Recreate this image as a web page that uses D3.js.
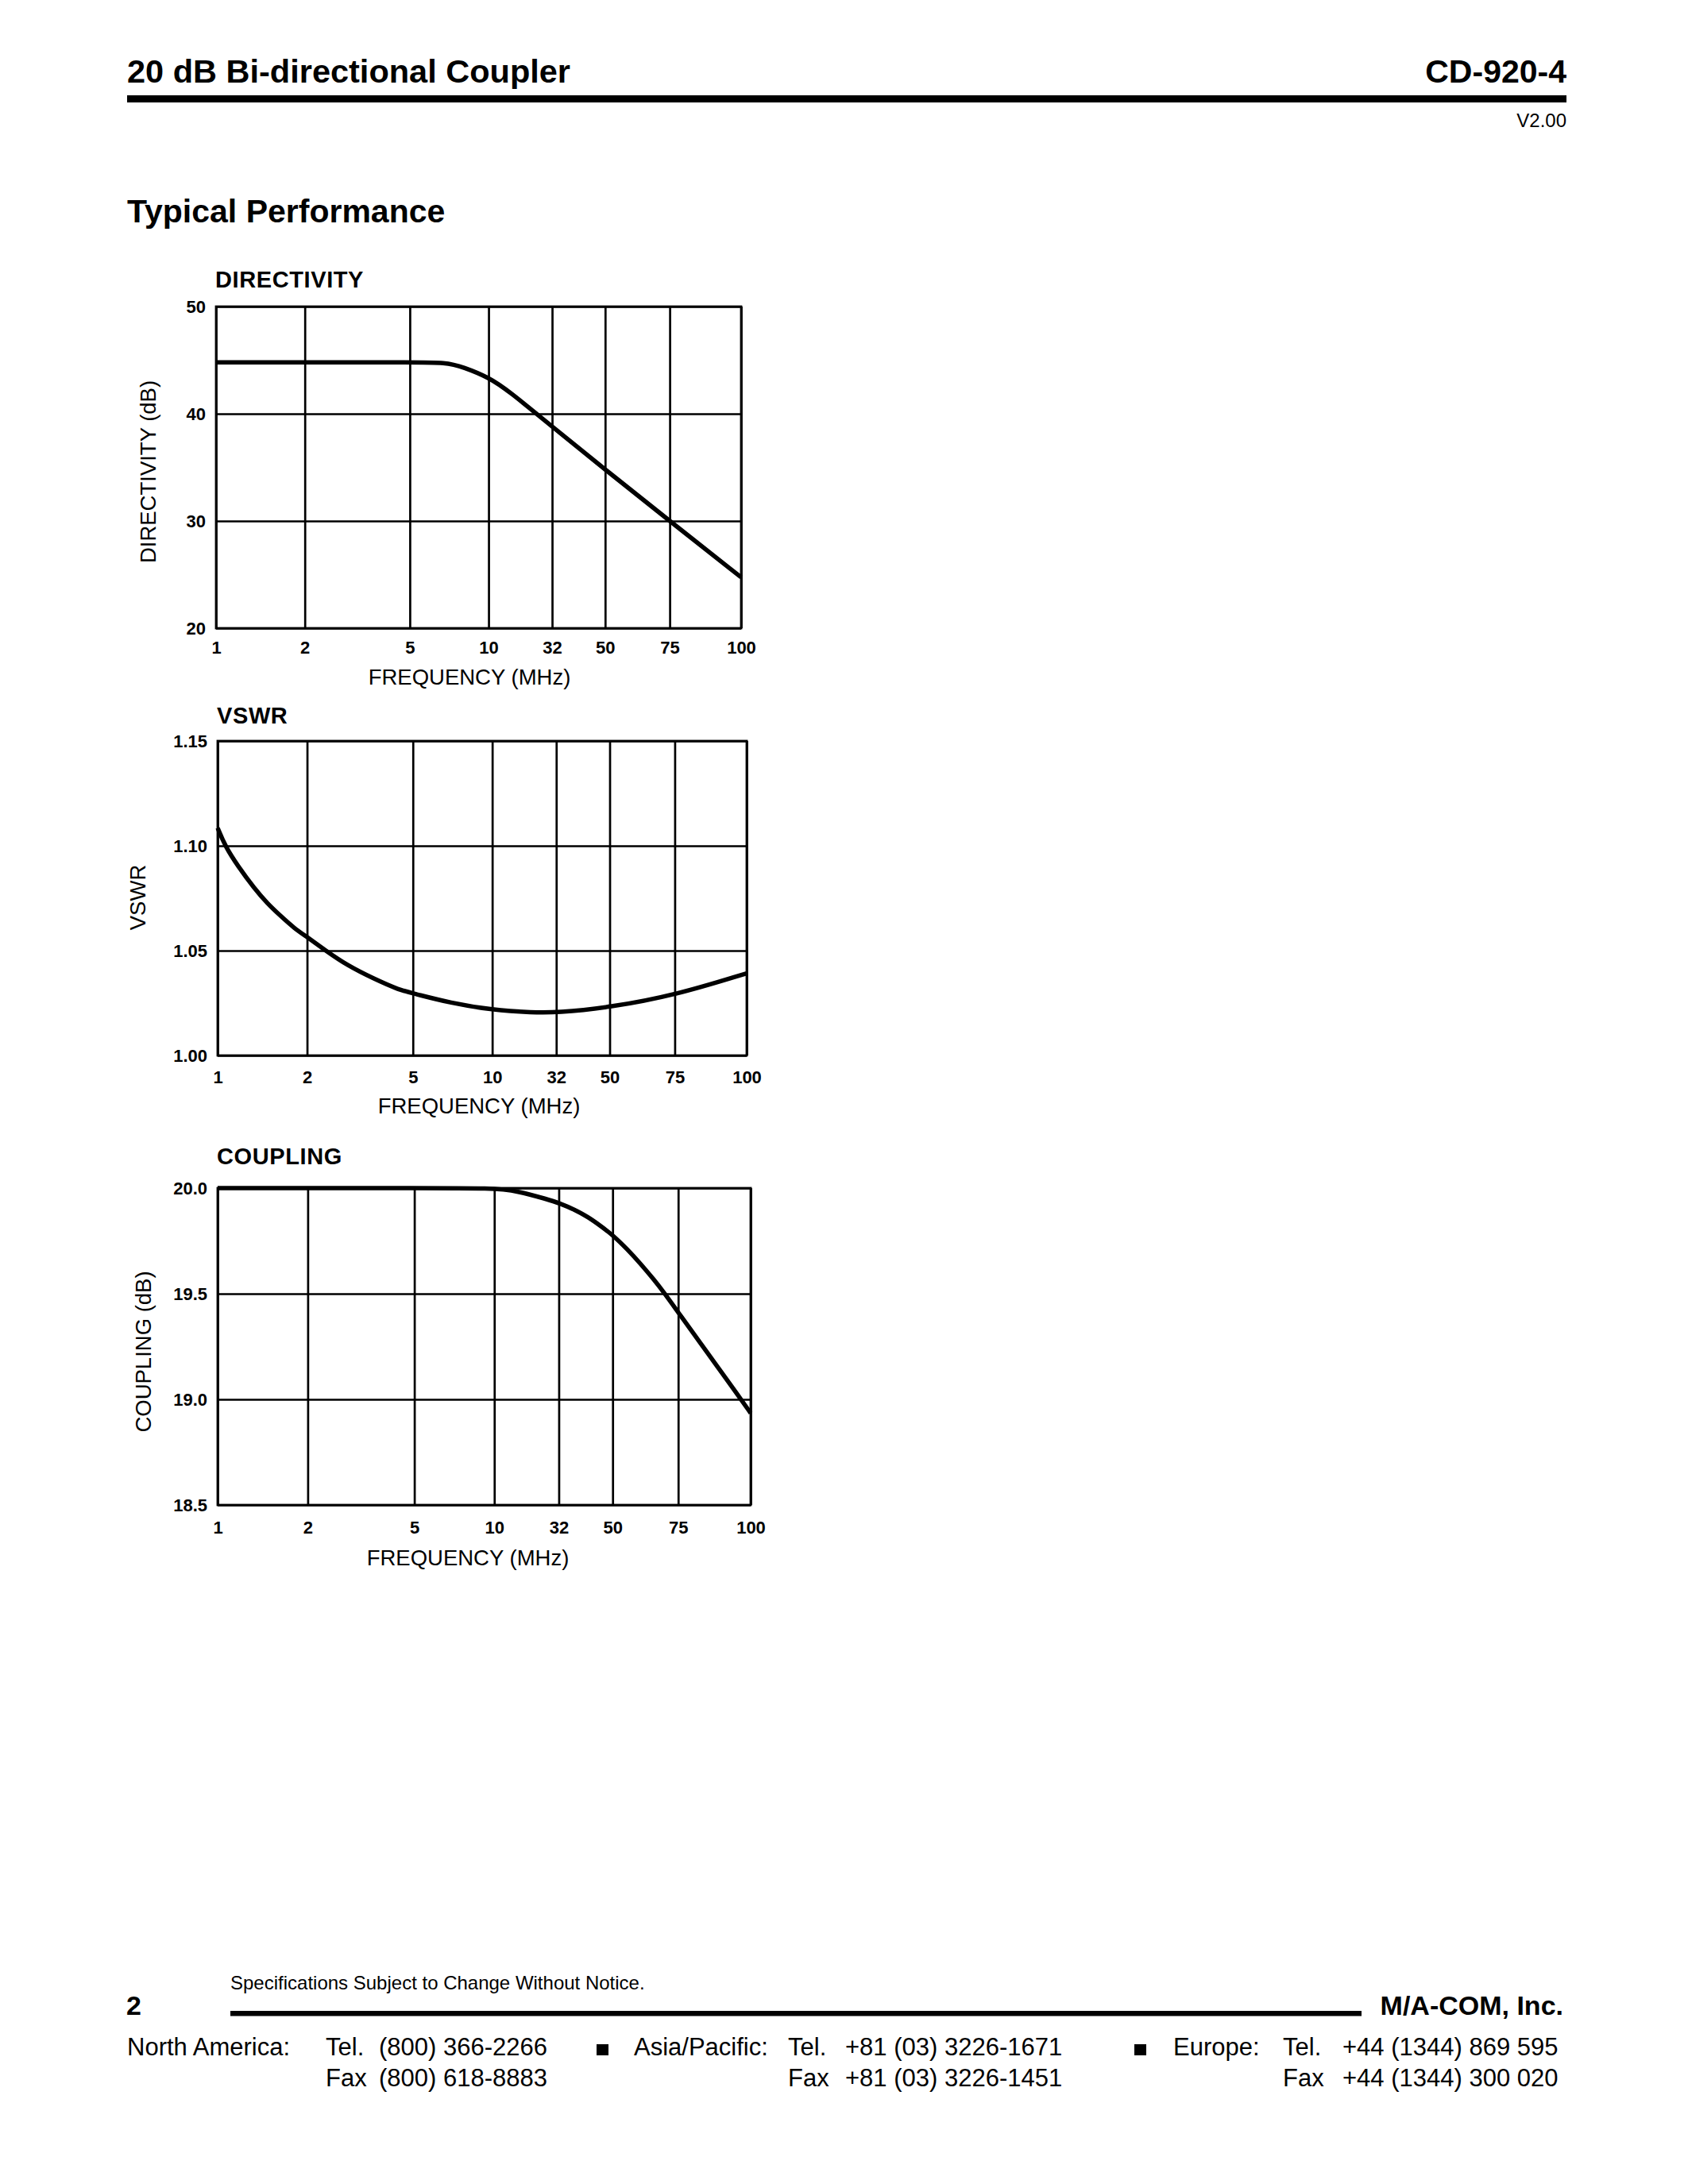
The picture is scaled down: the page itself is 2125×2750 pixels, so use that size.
<!DOCTYPE html>
<html>
<head>
<meta charset="utf-8">
<script src="https://cdn.jsdelivr.net/npm/d3@7"></script>
<style>
  html, body { margin: 0; padding: 0; background: #fff; }
  svg { display: block; }
  text { font-family: "Liberation Sans", Arial, Helvetica, sans-serif; fill: #000; }
</style>
</head>
<body>
<svg id="page" width="2125" height="2750"></svg>
<script>
// ---------------- DATA ----------------
const freqTicks = [1, 2, 5, 10, 32, 50, 75, 100];
const freqTickLabels = ["1", "2", "5", "10", "32", "50", "75", "100"];

const dirTicks = [20, 30, 40, 50];
const dirTickLabels = ["20", "30", "40", "50"];
const dirFreq = [1, 2, 5, 6.9, 8.0, 10, 14.4, 32, 50, 75, 100];
const dirValue = [44.8, 44.8, 44.8, 44.8, 44.35, 43.4, 42.15, 38.8, 34.8, 30.0, 24.75];

const vswrTicks = [1.00, 1.05, 1.10, 1.15];
const vswrTickLabels = ["1.00", "1.05", "1.10", "1.15"];
const vswrFreq = [1, 1.06, 1.17, 1.33, 1.47, 1.63, 1.81, 2, 2.35, 2.83, 3.55, 4.47, 5, 6.95, 10, 21, 32, 50, 75, 100];
const vswrValue = [1.1085, 1.0998, 1.0903, 1.0796, 1.0725, 1.0665, 1.0607, 1.0565, 1.0500, 1.0430, 1.0367, 1.0311,
                   1.0297, 1.0250, 1.0217, 1.0205, 1.0204, 1.0229, 1.0287, 1.0392];

const coupTicks = [18.5, 19.0, 19.5, 20.0];
const coupTickLabels = ["18.5", "19.0", "19.5", "20.0"];
const coupFreq = [1, 2, 5, 10, 15.0, 26.4, 32, 36.5, 40.7, 45.5, 50, 54.8, 59.5, 64.6, 68.4, 75, 79.8, 84.1, 89.5, 94.4, 100];
const coupValue = [20.0, 20.0, 20.0, 20.0, 19.987, 19.946, 19.930, 19.898, 19.864, 19.819, 19.778, 19.710, 19.641,
                   19.566, 19.510, 19.412, 19.310, 19.223, 19.120, 19.032, 18.935];

// ---------------- LAYOUT ----------------
// relative placement of the printed (non-uniform) frequency grid lines
const gridFrac = [0, 0.169, 0.369, 0.519, 0.640, 0.741, 0.864, 1];
const FONT_TICK = 22, FONT_AXIS = 27.5, FONT_TITLE = 29;

const charts = [
  { title: "DIRECTIVITY", yTitle: "DIRECTIVITY (dB)", ticks: dirTicks, tickLabels: dirTickLabels,
    freq: dirFreq, value: dirValue,
    left: 272, right: 933, top: 386, bottom: 791,
    titleBase: 361.5, xLabBase: 823, xTitleX: 591, xTitleBase: 862, yTitleX: 186, yTitleY: 594 },
  { title: "VSWR", yTitle: "VSWR", ticks: vswrTicks, tickLabels: vswrTickLabels,
    freq: vswrFreq, value: vswrValue,
    left: 274, right: 940, top: 933, bottom: 1329,
    titleBase: 910.5, xLabBase: 1364, xTitleX: 603, xTitleBase: 1402, yTitleX: 173, yTitleY: 1130 },
  { title: "COUPLING", yTitle: "COUPLING (dB)", ticks: coupTicks, tickLabels: coupTickLabels,
    freq: coupFreq, value: coupValue,
    left: 274, right: 945, top: 1496, bottom: 1895,
    titleBase: 1465.5, xLabBase: 1931, xTitleX: 589, xTitleBase: 1971, yTitleX: 180, yTitleY: 1702 }
];

const svg = d3.select("#page");
svg.append("rect").attr("width", 2125).attr("height", 2750).attr("fill", "#fff");

// ---------------- HEADER ----------------
svg.append("text").attr("x", 160).attr("y", 104).attr("font-size", 41.5).attr("font-weight", "bold")
  .text("20 dB Bi-directional Coupler");
svg.append("text").attr("x", 1972).attr("y", 104).attr("font-size", 41).attr("font-weight", "bold")
  .attr("text-anchor", "end").text("CD-920-4");
svg.append("rect").attr("x", 160).attr("y", 120).attr("width", 1812).attr("height", 9).attr("fill", "#000");
svg.append("text").attr("x", 1972).attr("y", 160).attr("font-size", 24).attr("text-anchor", "end").text("V2.00");
svg.append("text").attr("x", 160).attr("y", 280).attr("font-size", 41).attr("font-weight", "bold")
  .text("Typical Performance");

// ---------------- CHARTS ----------------
charts.forEach(c => {
  const w = c.right - c.left, h = c.bottom - c.top;
  const x = d3.scaleLog().domain(freqTicks).range(gridFrac.map(f => f * w));
  const y = d3.scaleLinear().domain([c.ticks[0], c.ticks[c.ticks.length - 1]]).range([h, 0]);
  const g = svg.append("g").attr("transform", `translate(${c.left},${c.top})`);

  // x grid + labels
  const xa = g.append("g").attr("transform", `translate(0,${h})`)
    .call(d3.axisBottom(x).tickValues(freqTicks).tickFormat((d, i) => freqTickLabels[i]).tickSize(-h));
  xa.select(".domain").remove();
  xa.selectAll("line").attr("stroke", "#000").attr("stroke-width", 2.7);
  xa.selectAll("text").attr("dy", null).attr("y", c.xLabBase - c.bottom)
    .attr("font-size", FONT_TICK).attr("font-weight", "bold").attr("font-family", null).attr("fill", "#000");

  // y grid + labels
  const ya = g.append("g")
    .call(d3.axisLeft(y).tickValues(c.ticks).tickFormat((d, i) => c.tickLabels[i]).tickSize(-w).tickPadding(13));
  ya.select(".domain").remove();
  ya.selectAll("line").attr("stroke", "#000").attr("stroke-width", 2.7);
  ya.selectAll("text").attr("font-size", FONT_TICK).attr("font-weight", "bold")
    .attr("font-family", null).attr("fill", "#000");

  // frame
  g.append("rect").attr("width", w).attr("height", h).attr("fill", "none")
    .attr("stroke", "#000").attr("stroke-width", 2.8);

  // curve
  const pts = c.freq.map((f, i) => ({ f, v: c.value[i] }));
  g.append("path").datum(pts)
    .attr("d", d3.line().x(d => x(d.f)).y(d => y(d.v)).curve(d3.curveBasis))
    .attr("fill", "none").attr("stroke", "#000").attr("stroke-width", 5.5).attr("stroke-linejoin", "round");

  // titles
  svg.append("text").attr("x", c.left - 1).attr("y", c.titleBase).attr("font-size", FONT_TITLE)
    .attr("font-weight", "bold").attr("letter-spacing", 0.6).text(c.title);
  svg.append("text").attr("x", c.xTitleX).attr("y", c.xTitleBase).attr("font-size", FONT_AXIS)
    .attr("text-anchor", "middle").text("FREQUENCY (MHz)");
  svg.append("text").attr("transform", `translate(${c.yTitleX},${c.yTitleY}) rotate(-90)`)
    .attr("dy", "0.36em").attr("font-size", FONT_AXIS).attr("text-anchor", "middle").text(c.yTitle);
});

// ---------------- FOOTER ----------------
svg.append("text").attr("x", 290).attr("y", 2505).attr("font-size", 24)
  .text("Specifications Subject to Change Without Notice.");
svg.append("text").attr("x", 159).attr("y", 2537).attr("font-size", 34).attr("font-weight", "bold").text("2");
svg.append("rect").attr("x", 290).attr("y", 2532).attr("width", 1424).attr("height", 6.5).attr("fill", "#000");
svg.append("text").attr("x", 1968).attr("y", 2537).attr("font-size", 34).attr("font-weight", "bold")
  .attr("text-anchor", "end").text("M/A-COM, Inc.");

const contactRows = [
  { x: 160, row: 0, t: "North America:" },
  { x: 410, row: 0, t: "Tel." }, { x: 477, row: 0, t: "(800) 366-2266" },
  { x: 410, row: 1, t: "Fax" }, { x: 477, row: 1, t: "(800) 618-8883" },
  { x: 798, row: 0, t: "Asia/Pacific:" },
  { x: 992, row: 0, t: "Tel." }, { x: 1064, row: 0, t: "+81 (03) 3226-1671" },
  { x: 992, row: 1, t: "Fax" }, { x: 1064, row: 1, t: "+81 (03) 3226-1451" },
  { x: 1477, row: 0, t: "Europe:" },
  { x: 1615, row: 0, t: "Tel." }, { x: 1690, row: 0, t: "+44 (1344) 869 595" },
  { x: 1615, row: 1, t: "Fax" }, { x: 1690, row: 1, t: "+44 (1344) 300 020" }
];
const rowBase = [2588, 2627];
svg.selectAll("text.contact").data(contactRows).enter().append("text").attr("class", "contact")
  .attr("x", d => d.x).attr("y", d => rowBase[d.row]).attr("font-size", 31).text(d => d.t);
[751, 1428].forEach(bx => {
  svg.append("rect").attr("x", bx).attr("y", 2574).attr("width", 15).attr("height", 14).attr("fill", "#000");
});
</script>
</body>
</html>
